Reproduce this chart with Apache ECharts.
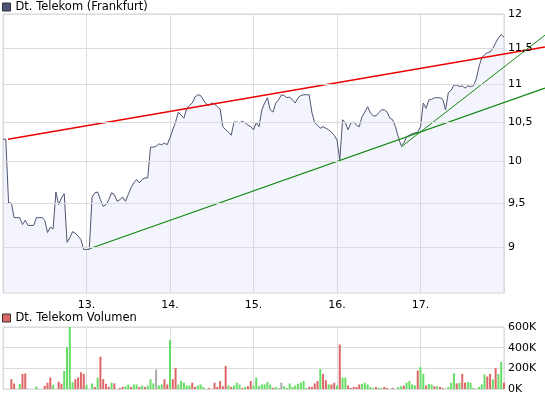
<!DOCTYPE html>
<html><head><meta charset="utf-8">
<script src="https://cdn.jsdelivr.net/npm/echarts@6/dist/echarts.min.js"></script>
<style>html,body{margin:0;padding:0;background:#fff}#c{width:545px;height:397px}</style>
</head><body><div id="c"></div>
<script>
// ---- data ----
const dayLabels = ['12.', '13.', '14.', '15.', '16.', '17.'];
const slotsPerDay = 30;
const price = [
  10.28,10.28,9.50,9.50,9.33,9.33,9.33,9.25,9.30,9.24,
  9.24,9.24,9.33,9.33,9.33,9.30,9.16,9.22,9.20,9.63,
  9.48,9.56,9.61,9.05,9.10,9.17,9.15,9.12,9.08,8.97,
  8.97,8.97,9.57,9.62,9.63,9.54,9.46,9.48,9.54,9.62,
  9.60,9.52,9.54,9.57,9.52,9.60,9.68,9.74,9.78,9.74,
  9.78,9.80,9.80,10.18,10.18,10.19,10.22,10.21,10.23,10.21,
  10.30,10.40,10.50,10.63,10.59,10.55,10.68,10.72,10.75,10.83,
  10.86,10.85,10.79,10.74,10.72,10.75,10.74,10.70,10.67,10.44,
  10.40,10.37,10.33,10.50,10.50,10.49,10.51,10.49,10.46,10.44,
  10.40,10.49,10.44,10.66,10.75,10.82,10.66,10.63,10.75,10.79,
  10.86,10.85,10.82,10.83,10.79,10.75,10.82,10.85,10.86,10.86,
  10.86,10.62,10.49,10.46,10.42,10.44,10.42,10.40,10.37,10.33,
  10.27,10.02,10.53,10.49,10.40,10.49,10.50,10.46,10.44,10.57,
  10.63,10.70,10.62,10.58,10.58,10.62,10.66,10.66,10.63,10.55,
  10.53,10.44,10.31,10.20,10.23,10.31,10.33,10.35,10.36,10.37,
  10.44,10.75,10.68,10.79,10.80,10.82,10.82,10.82,10.80,10.66,
  10.89,10.92,10.99,10.99,10.97,10.98,10.95,10.98,10.97,10.98,
  11.07,11.24,11.37,11.41,11.44,11.45,11.50,11.58,11.65,11.70,11.66
];
// volume in thousands
const volume = [
  0,0,0,95,54,0,50,145,150,0,
  0,0,24,0,0,30,60,111,40,0,
  70,50,175,404,600,67,95,111,162,145,
  40,0,54,20,111,313,95,50,20,61,
  54,0,10,20,27,44,20,44,44,20,
  34,20,34,94,54,189,34,44,94,44,
  475,94,202,44,77,61,34,34,61,20,
  34,44,20,0,10,0,61,20,77,27,
  222,34,20,34,61,44,10,20,27,77,
  34,111,27,44,44,67,44,10,20,10,
  61,27,10,54,20,34,50,61,77,10,
  20,20,54,77,195,145,84,44,44,61,
  34,431,111,111,34,10,20,20,44,50,
  61,44,20,10,20,10,10,20,10,0,
  10,0,20,27,34,61,77,44,34,179,
  212,145,34,50,44,27,27,20,10,0,
  20,61,152,54,61,145,61,67,61,10,
  0,20,44,141,121,145,94,202,145,263,61
];
// g = up, r = down, n = unchanged
const volDir = ('gggrrggrrg' + 'gggggrrrgg' + 'rrggggrrrr' + 'gggrgrrrrg' + 'rgrrggrggr' +
  'grgggnggrr' + 'grrgggggrr' + 'ggggrgrrrr' + 'rgrgggrgrr' + 'gggggggrgg' +
  'nggggggggg' + 'rrrrgrrgrr' + 'grggrrrrrg' + 'ggggrggrrg' + 'rgggrggggr' +
  'ggrggrgrrg' + 'gggrgrrggg' + 'ggggrrgrggr').split('');
const priceTicks = [9, 9.5, 10, 10.5, 11, 11.5, 12];
const priceTickLabels = ['9', '9,5', '10', '10,5', '11', '11,5', '12'];
const volTicks = [0, 200, 400, 600];
const volTickLabels = ['0K', '200K', '400K', '600K'];
const trendRed = [[1.8, 10.28], [194.7, 11.52]];
const trendGreen1 = [[31.3, 8.98], [194.7, 10.95]];
const trendGreen2 = [[143, 10.18], [194.7, 11.69]];

// ---- chart ----
const FONT = 'DejaVu Sans';
const gridColor = '#dcdcdc';
const dirColor = { g: '#66dd66', r: '#dd6666', n: '#aaaaaa' };
const nSlots = slotsPerDay * dayLabels.length;
const plotLeft = 3, plotWidth = 501, fullWidth = 542;
const wideMax = nSlots * fullWidth / plotWidth; // same scale, extended to the chart's right edge

const chart = echarts.init(document.getElementById('c'), null, { renderer: 'canvas' });
const legendCommon = {
  left: 2, padding: 0, itemWidth: 8, itemHeight: 8, icon: 'rect',
  itemStyle: { borderColor: '#333', borderWidth: 1 },
  textStyle: { fontSize: 11.5, color: '#000', fontFamily: FONT },
  selectedMode: false
};
const hiddenAxis = { show: false, axisLine: { show: false }, axisTick: { show: false }, axisLabel: { show: false }, splitLine: { show: false } };
const option = {
  animation: false,
  backgroundColor: '#fff',
  textStyle: { fontFamily: FONT },
  legend: [
    Object.assign({ data: ['Dt. Telekom (Frankfurt)'], top: 1 }, legendCommon),
    Object.assign({ data: ['Dt. Telekom Volumen'], top: 312 }, legendCommon)
  ],
  grid: [
    { left: plotLeft, top: 14, width: plotWidth, height: 279, show: true, borderColor: '#d4d4d4', borderWidth: 1, backgroundColor: '#fff' },
    { left: plotLeft, top: 327, width: plotWidth, height: 62, show: true, borderColor: '#d4d4d4', borderWidth: 1, backgroundColor: '#fff' },
    { left: plotLeft, top: 14, width: fullWidth, height: 279, show: false }
  ],
  xAxis: [
    {
      type: 'value', gridIndex: 0, min: 0, max: nSlots, interval: slotsPerDay,
      axisLine: { show: false }, axisTick: { show: false },
      splitLine: { show: true, lineStyle: { color: gridColor, width: 1 } },
      axisLabel: {
        margin: 7, fontSize: 11, color: '#000', fontFamily: FONT,
        formatter: v => { const k = Math.round(v / slotsPerDay); return (k > 0 && k < dayLabels.length) ? dayLabels[k] : ''; }
      }
    },
    {
      type: 'value', gridIndex: 1, min: 0, max: nSlots, interval: slotsPerDay,
      axisLine: { show: false }, axisTick: { show: false }, axisLabel: { show: false },
      splitLine: { show: true, lineStyle: { color: gridColor, width: 1 } }
    },
    Object.assign({ type: 'value', gridIndex: 2, min: 0, max: wideMax }, hiddenAxis)
  ],
  yAxis: [
    {
      type: 'log', gridIndex: 0, min: 8.5, max: 12, position: 'right',
      axisLine: { show: false }, axisTick: { show: false }, axisLabel: { show: false },
      splitLine: { show: false }
    },
    {
      type: 'value', gridIndex: 1, min: 0, max: 600, interval: 200, position: 'right',
      axisLine: { show: false }, axisTick: { show: false },
      splitLine: { show: true, lineStyle: { color: gridColor, width: 1 } },
      axisLabel: {
        margin: 4, fontSize: 11, color: '#000', fontFamily: FONT,
        formatter: v => volTickLabels[volTicks.indexOf(Math.round(v))] || ''
      }
    },
    Object.assign({ type: 'log', gridIndex: 2, min: 8.5, max: 12 }, hiddenAxis)
  ],
  series: [
    {
      name: '_grid', type: 'line', xAxisIndex: 0, yAxisIndex: 0, data: [], z: 1, silent: true,
      markLine: {
        symbol: 'none', silent: true, animation: false,
        lineStyle: { color: gridColor, width: 1, type: 'solid' },
        label: { show: true, position: 'end', distance: 4, color: '#000', fontSize: 11, fontFamily: FONT },
        data: priceTicks.map((v, i) => ({ yAxis: v, label: { formatter: priceTickLabels[i] } }))
      }
    },
    {
      name: 'Dt. Telekom (Frankfurt)', type: 'line', xAxisIndex: 0, yAxisIndex: 0, z: 2,
      data: price.map((p, i) => [i, p]),
      showSymbol: false, symbol: 'none',
      itemStyle: { color: '#4b5478' },
      lineStyle: { color: '#4d5574', width: 1 },
      areaStyle: { color: 'rgba(200,200,240,0.28)', origin: 'start' }
    },
    {
      name: 'trendRed', type: 'line', xAxisIndex: 2, yAxisIndex: 2, z: 3,
      data: trendRed, showSymbol: false, symbol: 'none',
      lineStyle: { color: '#ee0000', width: 1.5 }
    },
    {
      name: 'trendGreen1', type: 'line', xAxisIndex: 2, yAxisIndex: 2, z: 3,
      data: trendGreen1, showSymbol: false, symbol: 'none',
      lineStyle: { color: '#118811', width: 1.2 }
    },
    {
      name: 'trendGreen2', type: 'line', xAxisIndex: 2, yAxisIndex: 2, z: 3,
      data: trendGreen2, showSymbol: false, symbol: 'none',
      lineStyle: { color: '#118811', width: 1 }
    },
    {
      name: 'Dt. Telekom Volumen', type: 'bar', xAxisIndex: 1, yAxisIndex: 1, barWidth: 2,
      itemStyle: { color: '#dd6666' },
      data: volume.map((v, i) => ({ value: [i, v], itemStyle: { color: dirColor[volDir[i]] } }))
    }
  ]
};
chart.setOption(option);
</script>
</body></html>
